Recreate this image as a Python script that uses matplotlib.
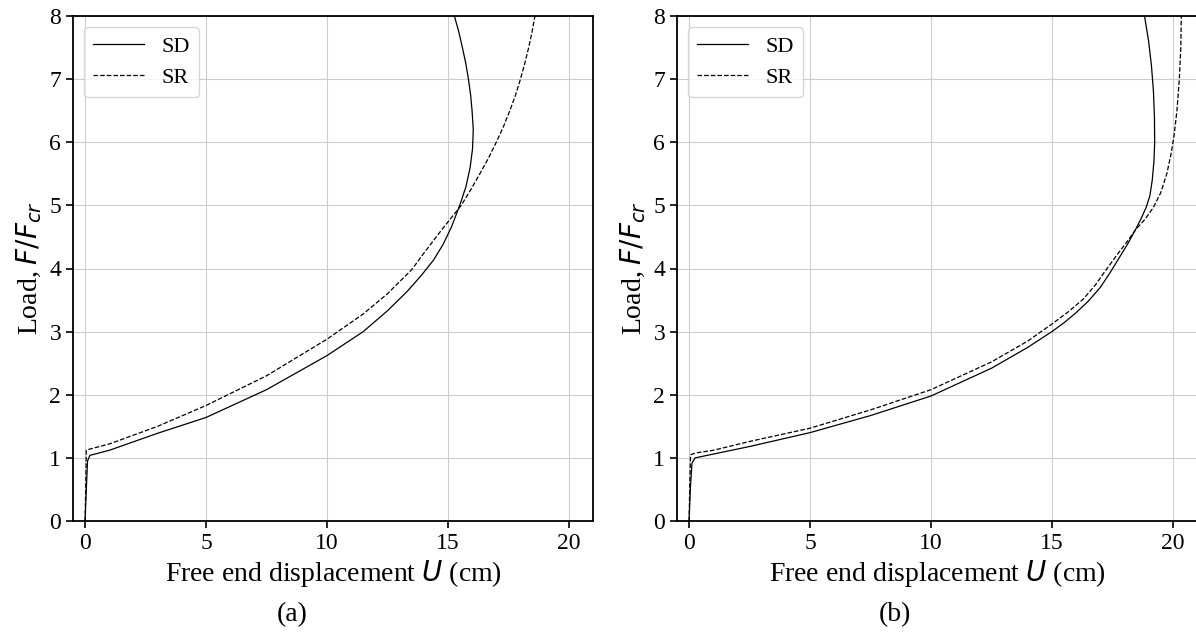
import matplotlib
matplotlib.use("Agg")
import matplotlib.pyplot as plt

plt.rcParams['font.family'] = ['Liberation Serif', 'DejaVu Serif']
plt.rcParams['mathtext.fontset'] = 'dejavusans'

# panel (a): free end displacement U (cm) vs load F/Fcr
a_sd_u = [0, 0.05, 0.1, 0.2, 1, 3.0, 5, 7.5, 10, 11.5, 12.5, 13.3, 13.9, 14.4, 14.8, 15.15,
          15.49, 15.75, 15.92, 16.02, 16.05, 16.0, 15.94, 15.85, 15.74, 15.6, 15.45, 15.27]
a_sd_f = [0, 0.5, 0.95, 1.04, 1.12, 1.39, 1.64, 2.08, 2.62, 3.0, 3.33, 3.63, 3.89, 4.13, 4.38, 4.66,
          5.0, 5.3, 5.6, 5.9, 6.2, 6.5, 6.75, 7.0, 7.25, 7.5, 7.75, 8.0]
a_sr_u = [0, 0.03, 0.05, 0.2, 1, 3.0, 5, 7.5, 10, 11.5, 12.5, 13.5, 14.06, 14.8, 15.55, 15.95,
          16.32, 16.68, 17.0, 17.3, 17.56, 17.8, 18.0, 18.18, 18.34, 18.48, 18.6]
a_sr_f = [0, 0.6, 1.12, 1.14, 1.22, 1.5, 1.83, 2.3, 2.88, 3.28, 3.6, 3.98, 4.27, 4.64, 5.0, 5.25,
          5.5, 5.75, 6.0, 6.25, 6.5, 6.75, 7.0, 7.25, 7.5, 7.75, 8.0]

# panel (b)
b_sd_u = [0, 0.05, 0.12, 0.25, 1, 2.5, 5, 7.5, 10, 12.5, 14, 15, 15.5, 16.0, 16.5, 17.0, 17.4,
          17.8, 18.15, 18.45, 18.7, 18.9, 19.05, 19.15, 19.22, 19.25, 19.24, 19.2, 19.12, 19.0, 18.83]
b_sd_f = [0, 0.5, 0.92, 1.0, 1.06, 1.18, 1.4, 1.67, 1.98, 2.42, 2.75, 3.0, 3.14, 3.3, 3.48, 3.7, 3.93,
          4.18, 4.4, 4.61, 4.8, 4.97, 5.15, 5.4, 5.7, 6.0, 6.4, 6.8, 7.2, 7.6, 8.0]
b_sr_u = [0, 0.03, 0.06, 0.3, 1, 2.5, 5, 7.5, 10, 12.5, 14, 15, 15.7, 16.31, 16.8, 17.28, 17.7,
          18.1, 18.45, 18.85, 19.2, 19.5, 19.75, 19.92, 20.05, 20.17, 20.27, 20.33, 20.35]
b_sr_f = [0, 0.6, 1.05, 1.08, 1.12, 1.26, 1.47, 1.76, 2.08, 2.52, 2.85, 3.12, 3.32, 3.52, 3.74, 4.0, 4.22,
          4.42, 4.61, 4.78, 4.97, 5.2, 5.5, 5.8, 6.1, 6.5, 7.0, 7.5, 8.0]

panels = [
    ((a_sd_u, a_sd_f), (a_sr_u, a_sr_f), '(a)'),
    ((b_sd_u, b_sd_f), (b_sr_u, b_sr_f), '(b)'),
]

fig = plt.figure(figsize=(11.96, 6.36), dpi=100)
W, H = 1196.0, 636.0
ax_left = [73, 677]
cap_x = [292, 895]

for i, (sd, sr, cap) in enumerate(panels):
    ax = fig.add_axes([ax_left[i] / W, (H - 521) / H, 520 / W, 505 / H])
    ax.plot(sd[0], sd[1], color='black', lw=0.9, label='SD')
    ax.plot(sr[0], sr[1], color='black', lw=0.9, ls='--', label='SR')
    ax.set_xlim(-0.5, 21)
    ax.set_ylim(0, 8)
    ax.set_xticks([0, 5, 10, 15, 20])
    ax.set_yticks(range(9))
    ax.grid(True, color='#cccccc', lw=0.8)
    ax.set_axisbelow(True)
    for s in ax.spines.values():
        s.set_linewidth(1.3)
    ax.tick_params(labelsize=17, width=1.2, length=5)
    ax.set_xlabel('Free end displacement $U$ (cm)', fontsize=20, labelpad=3)
    ax.set_ylabel('Load, $F/F_{cr}$', fontsize=20, labelpad=4)
    ax.legend(loc='upper left', fontsize=16, handlelength=2.3, framealpha=0.8)
    fig.text(cap_x[i] / W, 1 - 615 / H, cap, fontsize=20, ha='center', va='center')

fig.savefig('out.png', dpi=100)
